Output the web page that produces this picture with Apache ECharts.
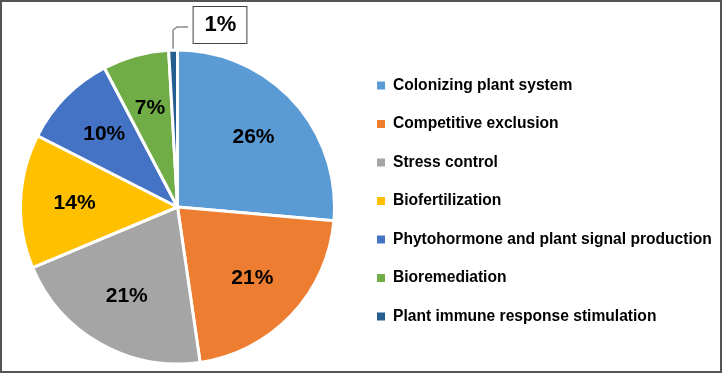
<!DOCTYPE html>
<html><head><meta charset="utf-8">
<script src="https://cdn.jsdelivr.net/npm/echarts@6/dist/echarts.min.js"></script>
<style>html,body{margin:0;padding:0;background:#fff}#c{width:723px;height:374px}</style>
</head><body><div id="c"></div>
<script>
const categories = ['Colonizing plant system','Competitive exclusion','Stress control','Biofertilization','Phytohormone and plant signal production','Bioremediation','Plant immune response stimulation'];
const values = [26.4, 21.3, 21.0, 13.8, 9.8, 6.8, 0.9];
const colors = ['#5B9BD5','#ED7D31','#A5A5A5','#FFC000','#4472C4','#70AD47','#255E91'];

const FONT = '"Liberation Sans", Arial, sans-serif';
const chart = echarts.init(document.getElementById('c'), null, {renderer:'canvas'});
const mainData = categories.map((n,i)=>({
  name:n, value:values[i], itemStyle:{color:colors[i]},
  label: i===6 ? {show:true} : {show:false},
  labelLine: i===6 ? {show:true} : {show:false}
}));
const overlayData = categories.map((n,i)=>({
  name:n, value:values[i],
  label: {show: i!==6}
}));
chart.setOption({
  animation:false,
  color: colors,
  graphic:[{type:'rect', shape:{x:1,y:1,width:720,height:371}, style:{fill:'none', stroke:'#555', lineWidth:2}, silent:true}],
  legend:{
    orient:'vertical', left:375, top:77.5, padding:0,
    icon:'rect', itemWidth:10, itemHeight:10, itemGap:22.5,
    textStyle:{fontFamily:FONT, fontWeight:'bold', fontSize:15.6, color:'#000', padding:[0,0,0,2]},
    data: categories
  },
  series:[
    {
      type:'pie', center:[177.5,207], radius:157, startAngle:90, clockwise:true,
      avoidLabelOverlap:false,
      itemStyle:{borderColor:'#fff', borderWidth:3},
      label:{position:'outside', formatter:p=>Math.round(p.value)+'%', fontFamily:FONT, fontWeight:'bold', fontSize:22, color:'#000',
        backgroundColor:'#fff', borderColor:'#444', borderWidth:1, padding:[7,10,7,11]},
      labelLine:{length:10, length2:10, lineStyle:{color:'#8a8a8a', width:1.5}},
      labelLayout: function(p){
        if(p.dataIndex===6){
          const start = p.labelLinePoints ? p.labelLinePoints[0] : [175,50];
          const cy = 27;
          return {x:220, y:25, align:'center', verticalAlign:'middle',
            labelLinePoints:[start, [start[0], cy+3], [start[0]+4, cy], [188, cy]]};
        }
      },
      emphasis:{disabled:true},
      data: mainData
    },
    {
      type:'pie', center:[177.5,207], radius:[42,158], startAngle:90, clockwise:true,
      avoidLabelOverlap:false, silent:true, legendHoverLink:false,
      itemStyle:{color:'rgba(0,0,0,0)', borderWidth:0},
      label:{position:'inside', formatter:p=>Math.round(p.value)+'%', fontFamily:FONT, fontWeight:'bold', fontSize:21, color:'#000'},
      labelLine:{show:false},
      emphasis:{disabled:true},
      data: overlayData
    }
  ]
});
</script></body></html>
